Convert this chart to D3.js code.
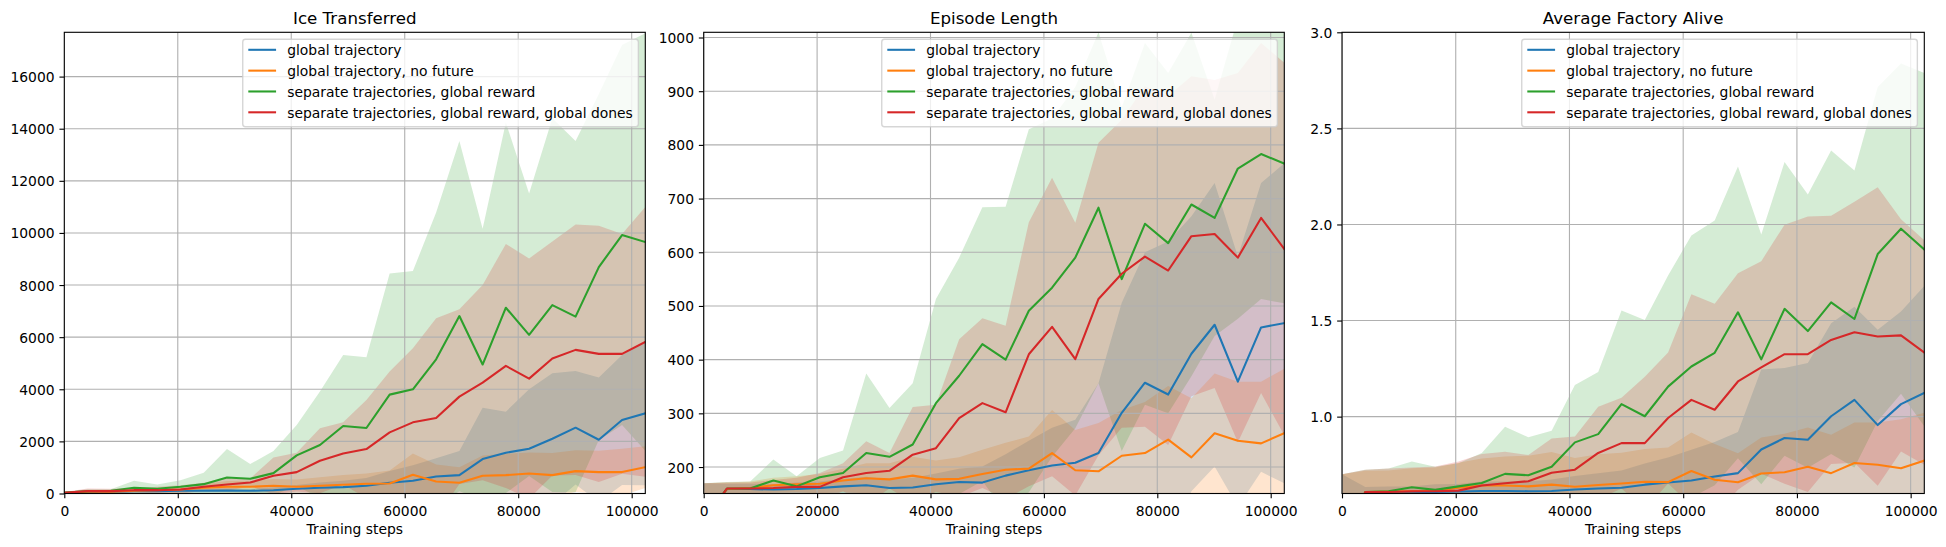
<!DOCTYPE html>
<html><head><meta charset="utf-8">
<script src="https://cdn.jsdelivr.net/npm/d3@7"></script>
<style>
body{margin:0;background:#fff;}
svg{display:block;}
</style>
</head><body>
<svg id="chart" width="1946" height="547"></svg>
<script>
// ---------------- data ----------------
const steps = d3.range(26).map(i => i * 4096);
const seriesNames = ["global trajectory", "global trajectory, no future", "separate trajectories, global reward", "separate trajectories, global reward, global dones"];
const seriesColors = ["#1f77b4", "#ff7f0e", "#2ca02c", "#d62728"];
const titles = ["Ice Transferred", "Episode Length", "Average Factory Alive"];
const xLabel = "Training steps";
const xTicks = [0, 20000, 40000, 60000, 80000, 100000];

// Ice Transferred
const iceTicks = [0, 2000, 4000, 6000, 8000, 10000, 12000, 14000, 16000];
const iceBlueMean = [30, 51, 64, 90, 90, 103, 103, 115, 103, 128, 179, 218, 244, 295, 410, 487, 654, 705, 1321, 1564, 1718, 2103, 2526, 2064, 2821, 3077];
const iceBlueStd = [20, 30, 40, 50, 50, 60, 70, 80, 80, 100, 150, 200, 250, 300, 450, 600, 700, 923, 1974, 1577, 2282, 2512, 2179, 2385, 2499, 2756];
const iceOrangeMean = [26, 64, 64, 103, 128, 154, 218, 256, 256, 295, 256, 295, 333, 372, 385, 718, 462, 410, 679, 705, 769, 705, 859, 821, 821, 1013];
const iceOrangeStd = [20, 60, 60, 80, 90, 110, 150, 220, 230, 260, 280, 330, 380, 400, 500, 820, 650, 600, 780, 820, 800, 850, 800, 820, 900, 800];
const iceGreenMean = [30, 90, 103, 218, 179, 256, 359, 615, 564, 782, 1462, 1859, 2590, 2513, 3795, 4000, 5150, 6810, 4950, 7130, 6090, 7230, 6790, 8690, 9920, 9650];
const iceGreenStd = [30, 75, 60, 270, 167, 257, 436, 1090, 564, 846, 1166, 2051, 2730, 2717, 4645, 4540, 5630, 6720, 5210, 7110, 5420, 7170, 6740, 6640, 7290, 8010];
const iceRedMean = [26, 90, 90, 128, 128, 154, 256, 346, 423, 679, 821, 1256, 1538, 1705, 2346, 2731, 2897, 3718, 4256, 4897, 4410, 5179, 5513, 5359, 5359, 5821];
const iceRedStd = [30, 102, 90, 77, 128, 166, 154, 244, 154, 706, 743, 1244, 1193, 1885, 2334, 2846, 3833, 3352, 3744, 4683, 4610, 4491, 4807, 4921, 4601, 5179];

// Episode Length
const lenTicks = [200, 300, 400, 500, 600, 700, 800, 900, 1000];
const lenBlueMean = [100, 159, 159, 158, 159, 161, 164, 166, 161, 162, 168, 172, 171, 184, 194, 203, 208, 226, 301, 357, 335, 411, 465, 359, 460, 468];
const lenBlueStd = [70, 10, 10, 10, 12, 12, 14, 16, 16, 18, 20, 25, 30, 40, 55, 70, 80, 130, 205, 243, 285, 256, 264, 233, 269, 298];
const lenOrangeMean = [100, 159, 161, 166, 168, 169, 175, 179, 177, 184, 177, 178, 187, 195, 197, 226, 194, 192, 221, 226, 251, 218, 263, 249, 244, 263];
const lenOrangeStd = [70, 12, 12, 14, 15, 18, 22, 28, 30, 35, 35, 40, 45, 50, 60, 80, 75, 90, 85, 95, 100, 110, 111, 110, 115, 120];
const lenGreenMean = [100, 160, 160, 175, 164, 181, 189, 226, 219, 242, 319, 370, 429, 400, 491, 534, 590, 683, 550, 653, 617, 689, 664, 756, 783, 765];
const lenGreenStd = [70, 12, 13, 39, 19, 36, 42, 148, 91, 114, 194, 220, 255, 285, 338, 315, 318, 327, 320, 337, 317, 320, 220, 280, 270, 260];
const lenRedMean = [100, 160, 160, 161, 163, 163, 181, 189, 193, 223, 235, 291, 319, 302, 410, 461, 401, 513, 560, 592, 566, 630, 634, 590, 664, 606];
const lenRedStd = [70, 11, 11, 15, 17, 26, 26, 59, 33, 89, 81, 147, 158, 161, 246, 278, 254, 291, 287, 317, 325, 298, 287, 344, 326, 347];

// Average Factory Alive
const facTicks = [1.0, 1.5, 2.0, 2.5, 3.0];
const facBlueMean = [0.3, 0.604, 0.606, 0.606, 0.608, 0.610, 0.613, 0.613, 0.612, 0.613, 0.621, 0.626, 0.630, 0.646, 0.657, 0.668, 0.688, 0.706, 0.829, 0.889, 0.880, 1.002, 1.087, 0.956, 1.065, 1.123];
const facBlueStd = [0.4, 0.03, 0.03, 0.03, 0.04, 0.04, 0.05, 0.05, 0.05, 0.06, 0.07, 0.08, 0.09, 0.11, 0.13, 0.16, 0.18, 0.214, 0.416, 0.364, 0.399, 0.484, 0.485, 0.496, 0.482, 0.557];
const facOrangeMean = [0.3, 0.608, 0.610, 0.612, 0.615, 0.630, 0.642, 0.642, 0.637, 0.646, 0.635, 0.644, 0.652, 0.661, 0.659, 0.717, 0.672, 0.659, 0.704, 0.711, 0.739, 0.706, 0.759, 0.750, 0.731, 0.771];
const facOrangeStd = [0.4, 0.11, 0.11, 0.12, 0.12, 0.13, 0.14, 0.15, 0.16, 0.17, 0.15, 0.16, 0.16, 0.17, 0.18, 0.2, 0.185, 0.15, 0.187, 0.2, 0.204, 0.2, 0.21, 0.22, 0.255, 0.249];
const facGreenMean = [0.3, 0.608, 0.612, 0.633, 0.619, 0.637, 0.655, 0.702, 0.695, 0.739, 0.866, 0.909, 1.065, 1.002, 1.156, 1.261, 1.332, 1.543, 1.298, 1.561, 1.445, 1.595, 1.508, 1.846, 1.978, 1.869];
const facGreenStd = [0.4, 0.116, 0.118, 0.133, 0.12, 0.12, 0.156, 0.245, 0.198, 0.187, 0.299, 0.323, 0.487, 0.501, 0.578, 0.682, 0.689, 0.759, 0.65, 0.764, 0.711, 0.79, 0.773, 0.869, 0.859, 0.919];
const facRedMean = [0.3, 0.608, 0.608, 0.612, 0.612, 0.615, 0.642, 0.653, 0.664, 0.708, 0.724, 0.811, 0.862, 0.862, 0.993, 1.087, 1.036, 1.183, 1.256, 1.325, 1.325, 1.399, 1.439, 1.417, 1.423, 1.334];
const facRedStd = [0.4, 0.116, 0.122, 0.123, 0.128, 0.151, 0.163, 0.164, 0.136, 0.178, 0.173, 0.241, 0.236, 0.345, 0.341, 0.55, 0.552, 0.563, 0.553, 0.674, 0.717, 0.646, 0.679, 0.777, 0.604, 0.584];

// ---------------- panels ----------------
const panels = [
  {title: titles[0], yDomain: [0, 17700], yTicks: iceTicks, fmt: d3.format("d"),
   means: [iceBlueMean, iceOrangeMean, iceGreenMean, iceRedMean], stds: [iceBlueStd, iceOrangeStd, iceGreenStd, iceRedStd]},
  {title: titles[1], yDomain: [150.7, 1009.7], yTicks: lenTicks, fmt: d3.format("d"),
   means: [lenBlueMean, lenOrangeMean, lenGreenMean, lenRedMean], stds: [lenBlueStd, lenOrangeStd, lenGreenStd, lenRedStd]},
  {title: titles[2], yDomain: [0.6, 3.0], yTicks: facTicks, fmt: d3.format(".1f"),
   means: [facBlueMean, facOrangeMean, facGreenMean, facRedMean], stds: [facBlueStd, facOrangeStd, facGreenStd, facRedStd]}
];

const layout = [{left: 64.3, right: 645.3}, {left: 703.7, right: 1284.3}, {left: 1342, right: 1924.3}];
const TOP = 32.3, BOTTOM = 493.5;
const FS = 13.89, TICK = 4.86, PAD = 4.86;
const FONT = "'DejaVu Sans', sans-serif";
const svg = d3.select("#chart");

panels.forEach((p, i) => {
  const L = layout[i];
  const w = L.right - L.left, h = BOTTOM - TOP;
  const x = d3.scaleLinear().domain([0, 102400]).range([0, w]);
  const y = d3.scaleLinear().domain(p.yDomain).range([h, 0]);
  const g = svg.append("g").attr("transform", `translate(${L.left},${TOP})`);
  const cid = "clip" + i;
  g.append("clipPath").attr("id", cid).append("rect").attr("width", w).attr("height", h);
  const plot = g.append("g").attr("clip-path", `url(#${cid})`);

  // bands
  p.means.forEach((m, k) => {
    const s = p.stds[k];
    const area = d3.area()
      .x((d, j) => x(steps[j]))
      .y0((d, j) => y(m[j] - s[j]))
      .y1((d, j) => y(m[j] + s[j]));
    plot.append("path").datum(m).attr("d", area)
      .attr("fill", seriesColors[k]).attr("fill-opacity", 0.2).attr("stroke", "none");
  });

  // grid
  plot.selectAll(".gx").data(xTicks).enter().append("line")
    .attr("x1", d => x(d)).attr("x2", d => x(d)).attr("y1", 0).attr("y2", h)
    .attr("stroke", "#b0b0b0").attr("stroke-width", 1.11);
  plot.selectAll(".gy").data(p.yTicks).enter().append("line")
    .attr("x1", 0).attr("x2", w).attr("y1", d => y(d)).attr("y2", d => y(d))
    .attr("stroke", "#b0b0b0").attr("stroke-width", 1.11);

  // lines
  p.means.forEach((m, k) => {
    const line = d3.line().x((d, j) => x(steps[j])).y(d => y(d));
    plot.append("path").datum(m).attr("d", line)
      .attr("fill", "none").attr("stroke", seriesColors[k]).attr("stroke-width", 2.08)
      .attr("stroke-linejoin", "round").attr("stroke-linecap", "square");
  });

  // spines
  g.append("rect").attr("width", w).attr("height", h)
    .attr("fill", "none").attr("stroke", "#000").attr("stroke-width", 1.11);

  // axes
  const xa = g.append("g").attr("transform", `translate(0,${h})`)
    .call(d3.axisBottom(x).tickValues(xTicks).tickFormat(d3.format("d")).tickSize(TICK).tickPadding(PAD));
  const ya = g.append("g")
    .call(d3.axisLeft(y).tickValues(p.yTicks).tickFormat(p.fmt).tickSize(TICK).tickPadding(PAD));
  [xa, ya].forEach(a => {
    a.select(".domain").remove();
    a.attr("font-family", FONT).attr("font-size", FS);
    a.selectAll("line").attr("stroke", "#000").attr("stroke-width", 1.11);
    a.selectAll("text").attr("fill", "#000");
  });
  xa.selectAll("text").attr("y", 0).attr("dy", 0).attr("transform", "translate(0,22)");
  ya.selectAll("text").attr("dy", "0.36em");

  // title & xlabel
  g.append("text").attr("x", w / 2).attr("y", -8.0).attr("text-anchor", "middle")
    .attr("font-family", FONT).attr("font-size", 16.67).attr("fill", "#000").text(p.title);
  g.append("text").attr("x", w / 2).attr("y", h + 41).attr("text-anchor", "middle")
    .attr("font-family", FONT).attr("font-size", FS).attr("fill", "#000").text(xLabel);

  // legend
  const lg = g.append("g");
  const box = lg.append("rect");
  const texts = seriesNames.map((name, k) =>
    lg.append("text").attr("font-family", FONT).attr("font-size", FS).attr("fill", "#000").text(name));
  const maxW = d3.max(texts, t => t.node().getComputedTextLength());
  const bp = 0.4 * FS, hl = 2.0 * FS, htp = 0.8 * FS, ls = 0.5 * FS, bap = 0.5 * FS;
  const rowH = FS;
  const lw = 2 * bp + hl + htp + maxW;
  const lh = 2 * bp + 4 * rowH + 3 * ls;
  const lx = w - bap - lw, ly = bap;
  box.attr("x", lx).attr("y", ly).attr("width", lw).attr("height", lh).attr("rx", 2.8)
    .attr("fill", "#fff").attr("fill-opacity", 0.8)
    .attr("stroke", "#cccccc").attr("stroke-opacity", 0.8).attr("stroke-width", 1.39);
  texts.forEach((t, k) => {
    const baseline = ly + bp + k * (rowH + ls) + 0.76 * FS;
    t.attr("x", lx + bp + hl + htp).attr("y", baseline);
    lg.append("line").attr("x1", lx + bp).attr("x2", lx + bp + hl)
      .attr("y1", baseline - 0.4 * FS).attr("y2", baseline - 0.4 * FS)
      .attr("stroke", seriesColors[k]).attr("stroke-width", 2.08);
  });
});
</script>
</body></html>
